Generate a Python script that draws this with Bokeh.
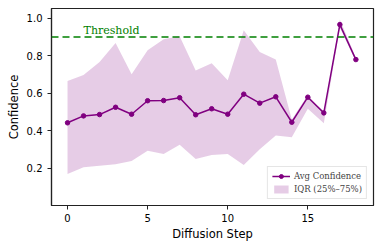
from bokeh.plotting import figure
from bokeh.models import Range1d, FixedTicker, Span, Label, Legend, LegendItem
from bokeh.embed import file_html
from bokeh.resources import INLINE

steps = list(range(19))
avg_conf = [0.442, 0.479, 0.486, 0.525, 0.488, 0.560, 0.561, 0.576, 0.485, 0.517,
            0.488, 0.595, 0.547, 0.581, 0.445, 0.579, 0.495, 0.967, 0.780]
q25 = [0.168, 0.204, 0.212, 0.220, 0.238, 0.293, 0.275, 0.325, 0.249, 0.270,
       0.275, 0.217, 0.300, 0.374, 0.365, 0.517, 0.440, 0.950, 0.770]
q75 = [0.665, 0.697, 0.767, 0.869, 0.702, 0.830, 0.888, 0.905, 0.722, 0.761,
       0.669, 0.937, 0.820, 0.780, 0.460, 0.590, 0.490, 0.994, 0.790]
threshold = 0.9
x_ticks = [0, 5, 10, 15]
y_ticks = [0.2, 0.4, 0.6, 0.8, 1.0]
y_tick_labels = {0.2: "0.2", 0.4: "0.4", 0.6: "0.6", 0.8: "0.8", 1.0: "1.0"}

p = figure(width=381, height=249, output_backend="svg", toolbar_location=None,
           x_range=Range1d(-1, 19.1), y_range=Range1d(0.0, 1.053),
           min_border_left=51, min_border_right=8, min_border_top=8, min_border_bottom=44)
p.grid.visible = False
p.outline_line_color = "#222222"
p.outline_line_width = 1.2
p.background_fill_color = "white"
p.border_fill_color = "white"

band = p.varea(x=steps, y1=q25, y2=q75, fill_color="purple", fill_alpha=0.2)
ln = p.line(steps, avg_conf, line_color="purple", line_width=1.5)
sc = p.scatter(steps, avg_conf, size=4.5, fill_color="purple", line_color="purple")

thr = Span(location=threshold, dimension="width", line_color="green",
           line_dash="7 4", line_width=1.5)
p.add_layout(thr)
p.add_layout(Label(x=1, y=0.935, text="Threshold", text_color="green",
                   text_font="DejaVu Serif", text_font_size="11px",
                   text_baseline="alphabetic"))

for ax in (p.xaxis[0], p.yaxis[0]):
    ax.axis_line_color = "#222222"
    ax.axis_line_width = 1.2
    ax.major_tick_line_color = "#222222"
    ax.major_tick_out = 4
    ax.major_tick_in = 0
    ax.minor_tick_line_color = None
    ax.major_label_text_font = "DejaVu Sans"
    ax.major_label_text_font_size = "10px"
    ax.major_label_text_color = "black"
    ax.axis_label_text_font = "DejaVu Sans"
    ax.axis_label_text_font_size = "11.5px"
    ax.axis_label_text_font_style = "normal"
    ax.axis_label_text_color = "black"

p.xaxis.ticker = FixedTicker(ticks=x_ticks)
p.yaxis.ticker = FixedTicker(ticks=y_ticks)
p.yaxis.major_label_overrides = y_tick_labels
p.xaxis.axis_label = "Diffusion Step"
p.yaxis.axis_label = "Confidence"
p.xaxis.major_label_standoff = 4
p.yaxis.major_label_standoff = 5
p.xaxis.axis_label_standoff = 2
p.yaxis.axis_label_standoff = 3

legend = Legend(items=[LegendItem(label="Avg Confidence", renderers=[ln, sc]),
                       LegendItem(label="IQR (25%–75%)", renderers=[band])],
                location="bottom_right")
legend.label_text_font = "DejaVu Serif"
legend.label_text_font_size = "8.5px"
legend.label_height = 10
legend.glyph_height = 10
legend.glyph_width = 18
legend.spacing = 3
legend.padding = 4
legend.margin = 6
legend.label_standoff = 4
legend.border_line_color = "#cccccc"
legend.border_line_width = 1
legend.background_fill_alpha = 0.8
p.add_layout(legend)

open("out.html", "w").write(file_html(p, INLINE))
